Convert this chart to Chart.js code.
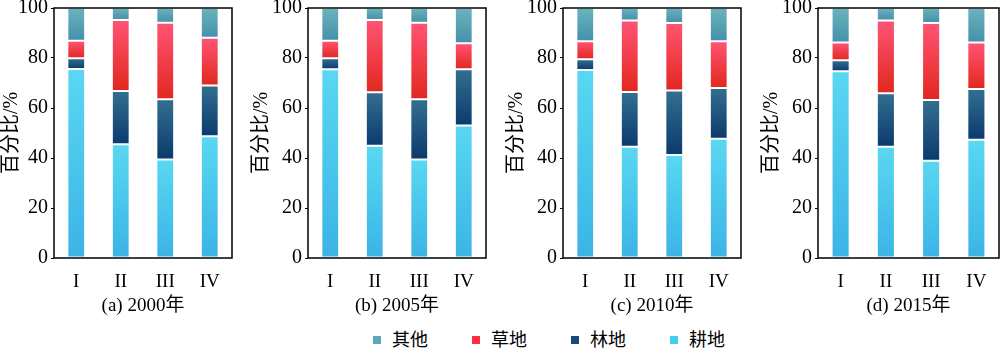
<!DOCTYPE html>
<html>
<head>
<meta charset="utf-8">
<script src="https://cdn.jsdelivr.net/npm/chart.js@4.4.1/dist/chart.umd.min.js"></script>
<style>
  html, body { margin: 0; padding: 0; background: #fff; }
  #wrap { position: relative; width: 1000px; height: 350px; overflow: hidden; }
  .panel { position: absolute; top: 0; }
  #legend {
    position: absolute; left: 373px; top: 329px; display: flex; gap: 44px;
    font: 18px 'Liberation Serif', 'Noto Sans CJK SC', serif; color: #000; line-height: 22px;
  }
  #legend .item { display: flex; align-items: center; }
  #legend .sw { width: 8px; height: 8px; margin-right: 11px; }
</style>
</head>
<body>
<div id="wrap">
  <canvas class="panel" id="p0" width="236" height="320" style="left:0px"></canvas>
  <canvas class="panel" id="p1" width="240" height="320" style="left:250px"></canvas>
  <canvas class="panel" id="p2" width="240" height="320" style="left:505px"></canvas>
  <canvas class="panel" id="p3" width="240" height="320" style="left:760px"></canvas>
  <div id="legend"></div>
</div>
<script>
// Land use shares (%) by zone I-IV, one row per year panel
var categories = ["I", "II", "III", "IV"];
var panelTitles = ["(a) 2000年", "(b) 2005年", "(c) 2010年", "(d) 2015年"];
var seriesNames = ["耕地", "林地", "草地", "其他"];

var farmland = [
  [75.6, 45.5, 39.4, 48.7],
  [75.5, 44.9, 39.4, 53.0],
  [75.2, 44.5, 41.2, 47.7],
  [74.7, 44.5, 38.9, 47.3]
];
var forest = [
  [4.3, 21.3, 24.1, 20.3],
  [4.4, 21.4, 24.1, 22.5],
  [4.3, 21.9, 25.8, 20.3],
  [4.4, 21.4, 24.3, 20.3]
];
var grassland = [
  [7.0, 28.4, 30.6, 19.1],
  [7.0, 28.9, 30.6, 10.4],
  [7.2, 28.6, 27.0, 18.7],
  [7.1, 29.1, 30.8, 18.6]
];
var other = [
  [13.1, 4.8, 5.9, 11.9],
  [13.1, 4.8, 5.9, 14.1],
  [13.3, 5.0, 6.0, 13.3],
  [13.8, 5.0, 6.0, 13.8]
];
var yTicks = [0, 20, 40, 60, 80, 100];

var seriesValues = [farmland, forest, grassland, other];

// top / bottom gradient stops per series, plus flat legend swatches
var FILLS = [
  ["#5ad7f2", "#3bb4e6"],
  ["#336f90", "#0b3a6e"],
  ["#ff5474", "#e2271f"],
  ["#6ab3bd", "#4590ab"]
];
var SWATCH = ["#45cdf2", "#174a7a", "#ff3045", "#5aa8b8"];

var FONT = "'Liberation Serif', 'Noto Sans CJK SC', serif";
var axisWidths = [54, 58, 58, 58];
var rightPad = [4, 4, 4, 1];

Chart.defaults.color = "#000";
Chart.defaults.font.family = FONT;

var frame = {
  id: "frame",
  afterDatasetsDraw: function (chart) {
    var a = chart.chartArea, ctx = chart.ctx;
    ctx.save();
    ctx.strokeStyle = "#000";
    ctx.lineWidth = 1.5;
    ctx.strokeRect(a.left, a.top, a.right - a.left, a.bottom - a.top);
    ctx.restore();
  }
};

function segmentFill(p, s) {
  return function (c) {
    var chart = c.chart, y = chart.scales.y;
    if (c.type !== "data" || !y || !chart.chartArea) return SWATCH[s];
    var i = c.dataIndex, base = 0;
    for (var k = 0; k < s; k++) base += seriesValues[k][p][i];
    var top = base + seriesValues[s][p][i];
    var g = chart.ctx.createLinearGradient(0, y.getPixelForValue(top), 0, y.getPixelForValue(base));
    g.addColorStop(0, FILLS[s][0]);
    g.addColorStop(1, FILLS[s][1]);
    return g;
  };
}

function renderPanel(p) {
  var datasets = seriesNames.map(function (name, s) {
    return {
      label: name,
      data: seriesValues[s][p],
      backgroundColor: segmentFill(p, s),
      borderColor: "rgba(255,255,255,0.3)",
      borderWidth: 1,
      borderSkipped: false,
      categoryPercentage: 1,
      barPercentage: 0.4
    };
  });

  new Chart(document.getElementById("p" + p), {
    type: "bar",
    data: { labels: categories, datasets: datasets },
    options: {
      responsive: false,
      animation: false,
      layout: { padding: { top: 8, right: rightPad[p], bottom: 0, left: 0 } },
      plugins: { legend: { display: false }, tooltip: { enabled: false } },
      scales: {
        x: {
          stacked: true,
          grid: { display: false, drawTicks: false },
          border: { display: false },
          ticks: { padding: 13, font: { size: 19, family: FONT } },
          title: { display: true, text: panelTitles[p], font: { size: 19, family: FONT }, padding: { top: 0, bottom: 3 } },
          afterFit: function (s) { s.height = 62; s.paddingLeft = 0; s.paddingRight = 0; }
        },
        y: {
          stacked: true,
          min: 0,
          max: 100,
          afterBuildTicks: function (s) { s.ticks = yTicks.map(function (v) { return { value: v }; }); },
          grid: { drawOnChartArea: false, drawTicks: true, tickLength: 3, color: "#000", lineWidth: 1 },
          border: { display: false },
          ticks: { padding: 3, font: { size: 20, family: FONT } },
          title: { display: true, text: "百分比/%", font: { size: 20, family: FONT }, padding: { top: 0, bottom: 0 } },
          afterFit: function (s) { s.width = axisWidths[p]; s.paddingTop = 0; s.paddingBottom = 0; }
        }
      }
    },
    plugins: [frame]
  });
}

for (var p = 0; p < panelTitles.length; p++) renderPanel(p);

// legend, top series first
var legend = document.getElementById("legend");
for (var s = seriesNames.length - 1; s >= 0; s--) {
  var item = document.createElement("div");
  item.className = "item";
  item.innerHTML = '<span class="sw" style="background:' + SWATCH[s] + '"></span><span>' + seriesNames[s] + '</span>';
  legend.appendChild(item);
}
</script>
</body>
</html>
